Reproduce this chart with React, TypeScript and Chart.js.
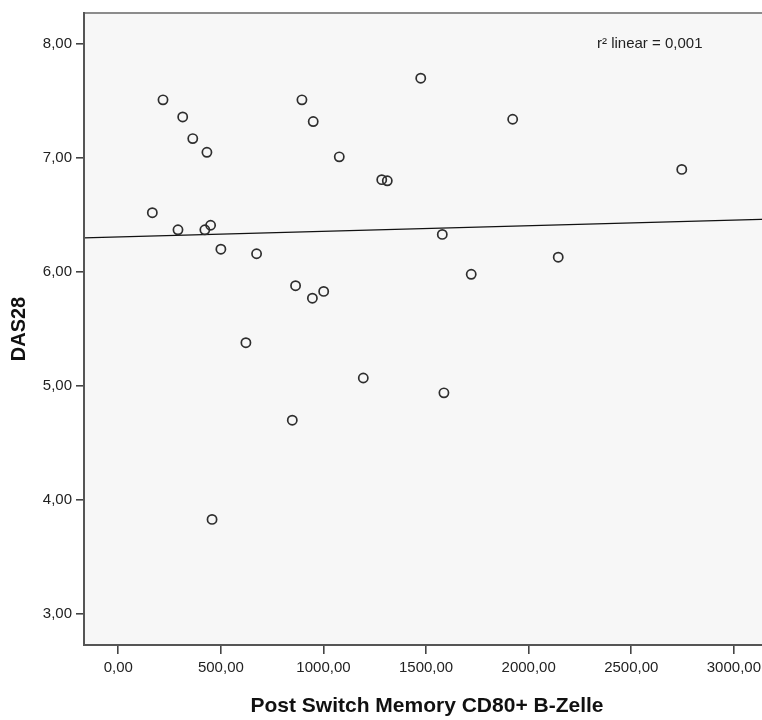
import React, { useEffect, useRef } from "react";
import { Chart, registerables } from "chart.js";

Chart.register(...registerables);

// Post switch memory CD80+ B cells (x) against DAS28 score (y)
const cd80Values = [
  166, 218, 314, 363, 432, 291, 422, 450, 500, 674, 864, 946, 1001, 622, 1194,
  848, 457, 895, 950, 1474, 1922, 1077, 1284, 1311, 2746, 1579, 2144, 1720, 1587,
];
const das28Values = [
  6.52, 7.51, 7.36, 7.17, 7.05, 6.37, 6.37, 6.41, 6.2, 6.16, 5.88, 5.77, 5.83,
  5.38, 5.07, 4.7, 3.83, 7.51, 7.32, 7.7, 7.34, 7.01, 6.81, 6.8, 6.9, 6.33,
  6.13, 5.98, 4.94,
];

// Linear fit: DAS28 = intercept + slope * x
const fitIntercept = 6.308;
const fitSlope = 0.000049;
const r2Text = "r² linear = 0,001";

const xTicks = [0, 500, 1000, 1500, 2000, 2500, 3000];
const yTicks = [3, 4, 5, 6, 7, 8];
const xRange = [-167, 3176];
const yRange = [2.728, 8.272];

const FONT = "'Liberation Sans', Arial, Helvetica, sans-serif";
const fmt = (v: number) => Number(v).toFixed(2).replace(".", ",");

const plotFrame = {
  id: "plotFrame",
  beforeDraw(chart: any) {
    const { ctx, chartArea: a } = chart;
    ctx.save();
    ctx.fillStyle = "#f7f7f7";
    ctx.fillRect(a.left, a.top, a.right - a.left, a.bottom - a.top);
    ctx.restore();
  },
  afterDatasetsDraw(chart: any) {
    const { ctx, chartArea: a, scales } = chart;
    ctx.save();
    ctx.lineCap = "square";
    ctx.lineWidth = 2;
    ctx.strokeStyle = "#8c8c8c";
    ctx.beginPath();
    ctx.moveTo(a.left, a.top);
    ctx.lineTo(a.right, a.top);
    ctx.stroke();
    ctx.strokeStyle = "#555555";
    ctx.beginPath();
    ctx.moveTo(a.left, a.top);
    ctx.lineTo(a.left, a.bottom);
    ctx.lineTo(a.right, a.bottom);
    ctx.stroke();

    // r² annotation
    ctx.fillStyle = "#222222";
    ctx.font = `15px ${FONT}`;
    ctx.textAlign = "center";
    ctx.textBaseline = "middle";
    ctx.fillText(r2Text, scales.x.getPixelForValue(2590), scales.y.getPixelForValue(8.0));
    ctx.restore();
  },
};

export default function App() {
  const canvasRef = useRef<HTMLCanvasElement | null>(null);

  useEffect(() => {
    if (!canvasRef.current) return;
    const points = cd80Values.map((x, i) => ({ x, y: das28Values[i] }));
    const fitLine = xRange.map((x) => ({ x, y: fitIntercept + fitSlope * x }));

    const chart = new Chart(canvasRef.current, {
      type: "scatter",
      data: {
        datasets: [
          {
            data: points,
            pointRadius: 4.6,
            pointHoverRadius: 4.6,
            borderWidth: 1.7,
            borderColor: "#2e2e2e",
            backgroundColor: "rgba(0,0,0,0)",
          },
          {
            data: fitLine,
            showLine: true,
            pointRadius: 0,
            borderColor: "#111111",
            borderWidth: 1.3,
          },
        ],
      },
      plugins: [plotFrame],
      options: {
        animation: false,
        responsive: false,
        events: [],
        layout: { padding: { top: 12, right: 10, left: 0, bottom: 0 } },
        plugins: { legend: { display: false }, tooltip: { enabled: false } },
        scales: {
          x: {
            type: "linear",
            min: xRange[0],
            max: xRange[1],
            afterBuildTicks: (s: any) => {
              s.ticks = xTicks.map((value) => ({ value }));
            },
            afterFit: (s: any) => {
              s.height = 75;
            },
            border: { display: false },
            grid: {
              drawOnChartArea: false,
              drawTicks: true,
              tickLength: 9,
              color: "#444444",
              lineWidth: 1.6,
            },
            ticks: {
              padding: 5,
              color: "#222222",
              font: { family: FONT, size: 15 },
              callback: (v: any) => fmt(v),
              maxRotation: 0,
            },
            title: {
              display: true,
              text: "Post Switch Memory CD80+ B-Zelle",
              color: "#111111",
              font: { family: FONT, size: 21, weight: "bold" },
              padding: { top: 0, bottom: 1 },
            },
          },
          y: {
            type: "linear",
            min: yRange[0],
            max: yRange[1],
            afterBuildTicks: (s: any) => {
              s.ticks = yTicks.map((value) => ({ value }));
            },
            afterFit: (s: any) => {
              s.width = 84;
            },
            border: { display: false },
            grid: {
              drawOnChartArea: false,
              drawTicks: true,
              tickLength: 8,
              color: "#444444",
              lineWidth: 1.6,
            },
            ticks: {
              padding: 4,
              color: "#222222",
              font: { family: FONT, size: 15 },
              callback: (v: any) => fmt(v),
            },
            title: {
              display: true,
              text: "DAS28",
              color: "#111111",
              font: { family: FONT, size: 20, weight: "bold" },
              padding: { top: 7.5, bottom: 0 },
            },
          },
        },
      },
    } as any);

    return () => chart.destroy();
  }, []);

  return (
    <div
      style={{
        position: "fixed",
        left: 0,
        top: 0,
        width: 762,
        height: 720,
        overflow: "hidden",
        background: "#ffffff",
      }}
    >
      <canvas ref={canvasRef} width={780} height={720} style={{ display: "block" }} />
    </div>
  );
}
